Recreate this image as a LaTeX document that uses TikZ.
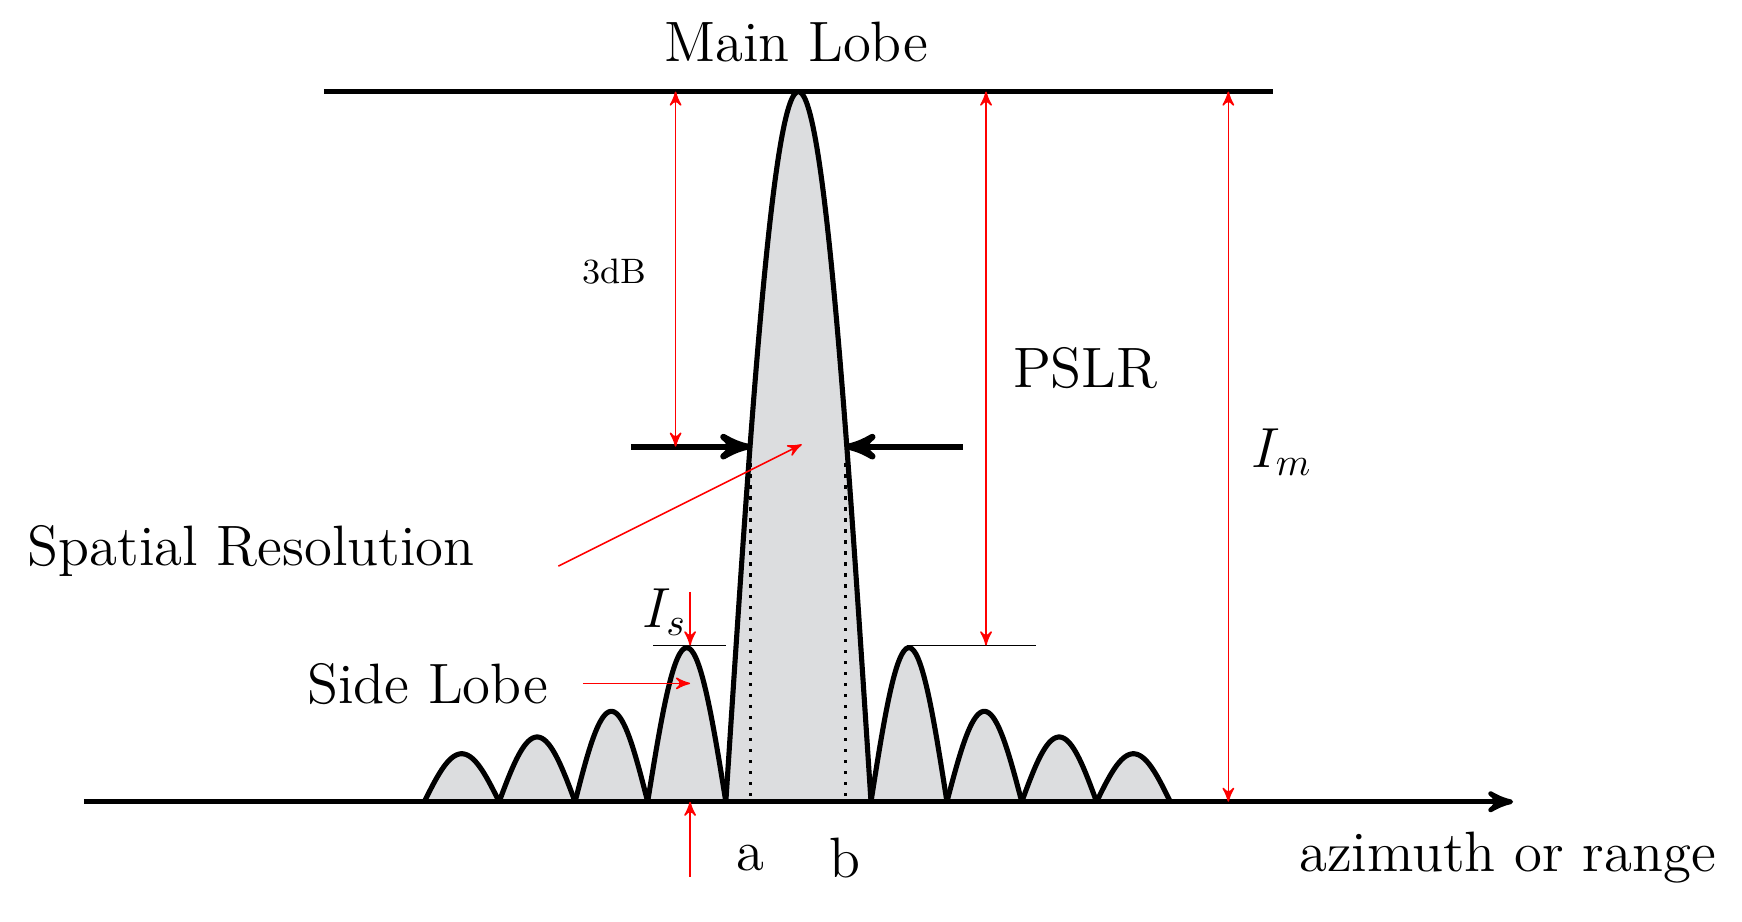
\documentclass[tikz,border=0pt]{standalone}
\usepackage{tikz}
\usetikzlibrary{arrows,positioning}
\definecolor{lobegray}{RGB}{220,221,223}

\begin{document}
\begin{tikzpicture}[x=0.01cm,y=-0.01cm,
    curve/.style={line width=1.3pt,fill=lobegray},
    axis/.style={line width=1.2pt},
    dim/.style={<->,red,thin,>=stealth'},
    pointer/.style={->,red,thin,>=stealth'},
    label/.style={font=\fontsize{14.5}{17}\selectfont}
]
\useasboundingbox (0,0) rectangle (1560,825);

% Side lobes
\foreach \a/\b/\h in {380/447/675,447/515/660,515/580/637,580/650/580,
                      780/848/580,848/915/637,915/982/660,982/1048/675}{
  \draw[curve] plot[domain=0:1,samples=40,smooth] ({\a+(\b-\a)*\x},{718-(718-\h)*sin(180*\x)});
}
% Main lobe
\draw[curve] plot[domain=-1:1,samples=60,smooth] ({715+65*\x},{718-636*cos(90*\x)});

% Axes and reference lines
\coordinate (o) at (75,718);
\coordinate (e) at (1355,718);
\draw[axis,->,>=stealth'] (o) -- (e);
\coordinate (tl) at (290,82);
\coordinate (tr) at (1140,82);
\draw[axis] (tl) -- (tr);
\draw[thin] (585,578) -- (650,578);
\draw[thin] (812,578) -- (928,578);
\draw[thick,dotted] (672,415) -- (672,718);
\draw[thick,dotted] (757,415) -- (757,718);

% Width arrows
\draw[line width=1.6pt,->,>=stealth'] (565,400) -- (672,400);
\draw[line width=1.6pt,->,>=stealth'] (862,400) -- (757,400);

% Dimensions
\draw[dim] (605,82) -- (605,400);
\draw[dim] (883,82) -- (883,578);
\draw[dim] (1100,82) -- (1100,718);
\draw[pointer] (618,530) -- (618,578);
\draw[pointer] (618,785) -- (618,718);
\draw[pointer] (522,612) -- (618,612);
\draw[pointer] (500,507) -- (718,398);

% Labels
\node[label] (main) at (713,38) {Main Lobe};
\node[font=\small] (db) at (550,243) {3dB};
\node[label] (pslr) at (972,330) {PSLR};
\node[label] (im) at (1148,405) {$I_m$};
\node[label] (sr) at (225,493) {Spatial Resolution};
\node[label] (is) at (595,548) {$I_s$};
\node[label] (sl) at (383,613) {Side Lobe};
\node[label] (a) at (672,768) {a};
\node[label] (b) at (757,768) {b};
\node[label] (az) at (1350,768) {azimuth or range};
\end{tikzpicture}
\end{document}
